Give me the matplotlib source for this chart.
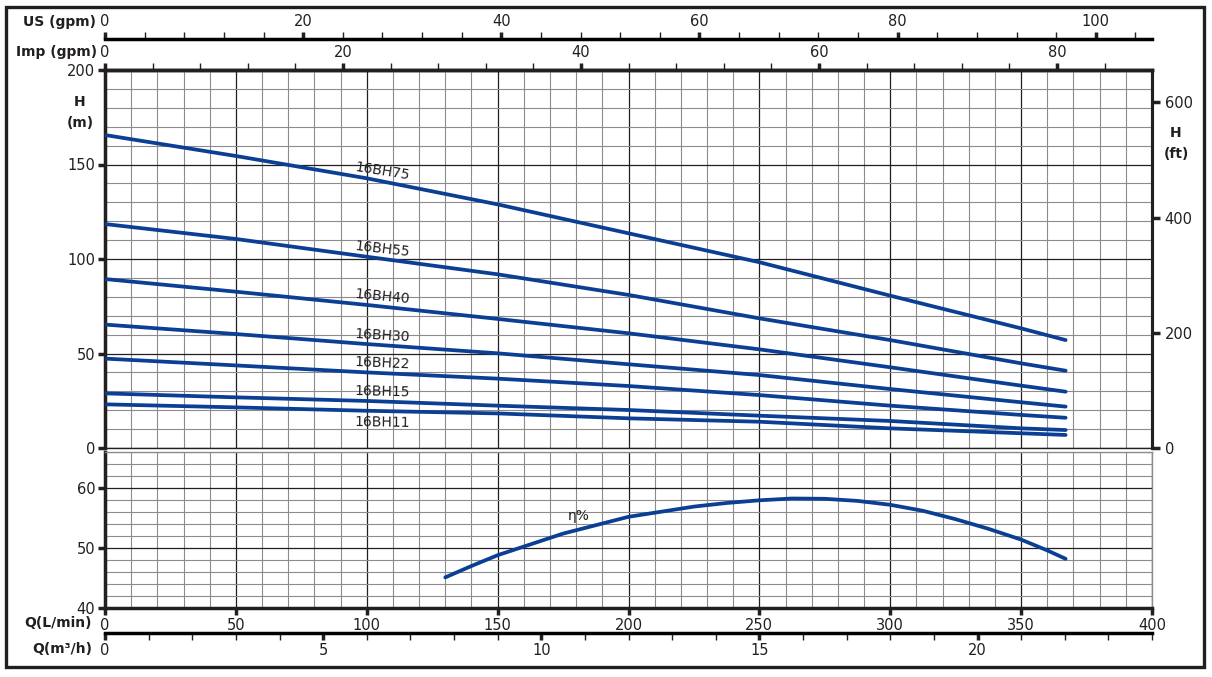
import numpy as np
import matplotlib
matplotlib.use('Agg')
import matplotlib.pyplot as plt
from matplotlib.patches import Rectangle
from matplotlib.ticker import MultipleLocator, NullLocator, FixedLocator

# Размер картинки в пикселях
W, H = 1212, 677

# Подача Q (л/мин) для кривых напора
q = [0, 50, 100, 150, 200, 250, 300, 350, 367]
# Напор H (м) по моделям
h_75 = [165.6, 154.5, 142.7, 128.9, 113.6, 98.3, 80.6, 63.3, 57.1]
h_55 = [118.5, 110.6, 101.2, 91.9, 81.0, 68.6, 57.1, 44.8, 40.9]
h_40 = [89.4, 82.7, 75.7, 68.3, 60.7, 52.2, 42.7, 33.0, 29.8]
h_30 = [65.3, 60.3, 55.0, 50.1, 44.3, 38.6, 31.2, 24.2, 21.9]
h_22 = [47.3, 43.7, 40.0, 36.7, 32.8, 28.0, 22.4, 17.5, 16.0]
h_15 = [28.9, 26.8, 24.9, 22.4, 20.1, 17.1, 14.3, 10.4, 9.5]
h_11 = [23.1, 21.5, 19.7, 18.3, 15.7, 13.9, 10.4, 7.8, 6.9]
models = ['16BH75', '16BH55', '16BH40', '16BH30', '16BH22', '16BH15', '16BH11']

# КПД
q_eta = [130, 140, 150, 175, 200, 225, 237.5, 250, 262.5, 275, 287.5, 300,
         312.5, 325, 337.5, 350, 360, 367]
eta = [45.1, 47.0, 48.8, 52.4, 55.2, 56.9, 57.5, 57.95, 58.25, 58.2, 57.85, 57.2,
       56.2, 54.8, 53.2, 51.4, 49.6, 48.2]

# Подписи шкал
us_ticks = list(range(0, 105, 4))
imp_ticks = list(range(0, 89, 4))
m3_ticks = list(range(0, 25))

BLUE = '#0a3f94'
INK = '#231f20'
GREY = '#8c8c8c'

LPM_IMP = 4.54609
LPM_US = 3.785411784
M_FT = 3.28084


def px(x, y):
    return x / W, 1 - y / H


def style_grid(a, ymin_step, ymaj_step):
    a.xaxis.set_major_locator(MultipleLocator(50))
    a.xaxis.set_minor_locator(MultipleLocator(10))
    a.yaxis.set_major_locator(MultipleLocator(ymaj_step))
    a.yaxis.set_minor_locator(MultipleLocator(ymin_step))
    a.grid(which='minor', color=GREY, lw=0.8)
    a.grid(which='major', color=INK, lw=0.9)
    a.set_axisbelow(True)
    a.tick_params(which='minor', length=0)
    a.tick_params(which='major', length=5, width=2.5, color=INK,
                  labelcolor=INK, labelsize=10.5, pad=2)


def scale_axis(sec, ticks, every):
    sec.xaxis.set_major_locator(FixedLocator([t for t in ticks if t % every == 0]))
    sec.xaxis.set_minor_locator(FixedLocator([t for t in ticks if t % every != 0]))
    sec.xaxis.set_major_formatter(lambda v, p: f'{v:g}')
    sec.tick_params(which='major', length=5, width=2.5, color=INK,
                    labelcolor=INK, labelsize=10.5, pad=2)
    sec.tick_params(which='minor', length=5, width=1, color=INK)


def main():
    plt.rcParams['font.family'] = ['DejaVu Sans']
    fig = plt.figure(figsize=(W / 100, H / 100), dpi=100)

    # Верхний график: напор
    ax = fig.add_axes([105 / W, 1 - 448 / H, 1047 / W, 378 / H])
    ax.set_xlim(0, 400)
    ax.set_ylim(0, 200)
    style_grid(ax, 10, 50)
    ax.tick_params(axis='x', which='both', bottom=False, labelbottom=False)
    for s, lw in [('left', 2.5), ('top', 2.5), ('right', 2.2), ('bottom', 1.0)]:
        ax.spines[s].set_linewidth(lw)
        ax.spines[s].set_color(INK)

    curves = [h_75, h_55, h_40, h_30, h_22, h_15, h_11]
    rots = [-9, -6.5, -5.5, -3.5, -2.5, -1.5, -1]
    for name, hv, rot in zip(models, curves, rots):
        ax.plot(q, hv, color=BLUE, lw=2.7, solid_capstyle='round', zorder=3)
        hq = np.interp(106, q, hv)
        dy = -8 if name == '16BH11' else 7
        ax.annotate(name, (106, hq), xytext=(0, dy), textcoords='offset points',
                    ha='center', va='center', rotation=rot, fontsize=10,
                    color=INK, zorder=4)

    # Шкала в Imp gpm сверху
    imp = ax.secondary_xaxis('top', functions=(lambda x: x / LPM_IMP,
                                               lambda x: x * LPM_IMP))
    scale_axis(imp, imp_ticks, 20)
    imp.spines['top'].set_linewidth(2.5)

    # Шкала в US gpm
    us = ax.secondary_xaxis((448 - 39) / 378, functions=(lambda x: x / LPM_US,
                                                         lambda x: x * LPM_US))
    scale_axis(us, us_ticks, 20)
    us.spines['top'].set_linewidth(2.5)

    # Шкала в футах справа
    ft = ax.secondary_yaxis('right', functions=(lambda m: m * M_FT,
                                                lambda f: f / M_FT))
    ft.yaxis.set_major_locator(FixedLocator([0, 200, 400, 600]))
    ft.yaxis.set_minor_locator(NullLocator())
    ft.tick_params(which='major', length=6, width=2.5, color=INK,
                   labelcolor=INK, labelsize=10.5, pad=3)
    ft.spines['right'].set_linewidth(2.2)

    # Нижний график: КПД
    ax2 = fig.add_axes([105 / W, 1 - 608 / H, 1047 / W, 156 / H])
    ax2.set_xlim(0, 400)
    ax2.set_ylim(40, 66)
    style_grid(ax2, 2, 10)
    for s, lw, c in [('left', 2.5, INK), ('bottom', 2.5, INK),
                     ('right', 1.0, GREY), ('top', 1.0, GREY)]:
        ax2.spines[s].set_linewidth(lw)
        ax2.spines[s].set_color(c)
    ax2.plot(q_eta, eta, color=BLUE, lw=2.7, solid_capstyle='round', zorder=3)
    ax2.text(181, 55.3, 'η%', fontsize=10, color=INK, ha='center', va='center')

    # Шкала в м3/ч снизу
    m3 = ax2.secondary_xaxis((608 - 633) / 156, functions=(lambda x: x * 0.06,
                                                           lambda x: x / 0.06))
    scale_axis(m3, m3_ticks, 5)
    m3.spines['bottom'].set_linewidth(2.5)

    # Подписи осей
    bold = dict(fontsize=10, fontweight='bold', color=INK, va='center')
    fig.text(*px(96, 22), 'US (gpm)', ha='right', **bold)
    fig.text(*px(97, 52), 'Imp (gpm)', ha='right', **bold)
    fig.text(*px(80, 102), 'H', ha='center', **bold)
    fig.text(*px(80, 123), '(m)', ha='center', **bold)
    fig.text(*px(1176, 133), 'H', ha='center', **bold)
    fig.text(*px(1176, 154), '(ft)', ha='center', **bold)
    fig.text(*px(92, 623), 'Q(L/min)', ha='right', **bold)
    fig.text(*px(92, 649), 'Q(m³/h)', ha='right', **bold)

    # Рамка
    fig.patches.append(Rectangle(px(6, 667), 1198 / W, 660 / H, fill=False,
                                 lw=2.4, edgecolor=INK, transform=fig.transFigure))

    fig.savefig('out.png', dpi=100)


if __name__ == '__main__':
    main()
